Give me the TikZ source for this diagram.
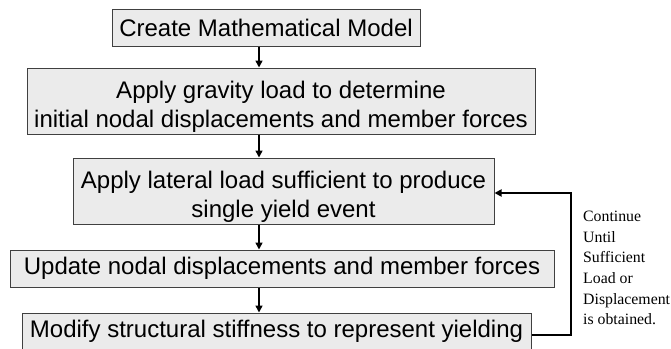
\documentclass[tikz,border=0pt]{standalone}
\usepackage{fontspec}
\setmainfont{Liberation Sans}
\newfontfamily\noteserif{Liberation Serif}
\usetikzlibrary{arrows.meta}
\begin{document}
\begin{tikzpicture}[x=1pt,y=-1pt,
  stepbox/.style={draw=black!75, line width=1pt, fill=black!8, inner sep=0pt,
    align=center, text=black, font=\fontsize{24}{29}\selectfont},
  twoline/.style={text height=58.5pt, text depth=5pt},
  flow/.style={-{Triangle[length=7pt,width=7pt]}, line width=1.6pt, black},
  loopline/.style={-{Triangle[length=7pt,width=7pt]}, line width=1.8pt, black},
  note/.style={font=\noteserif\fontsize{15.8}{20.6}\selectfont, align=left, inner sep=0pt, anchor=north west}]
\useasboundingbox (0,0) rectangle (671,348);
\clip (0,0) rectangle (671,348);
\fill[white] (0,0) rectangle (671,348);

\node[stepbox, minimum width=308pt, minimum height=37pt] (b1) at (266,27.5) {Create Mathematical Model};
\node[stepbox, twoline, minimum width=508pt, minimum height=66pt] (b2) at (281,101) {Apply gravity load to determine\\initial nodal displacements and member forces};
\node[stepbox, twoline, minimum width=421pt, minimum height=66pt] (b3) at (283.5,191) {Apply lateral load sufficient to produce\\single yield event};
\node[stepbox, minimum width=544pt, minimum height=37pt] (b4) at (282,268.5) {Update nodal displacements and member forces};
\node[stepbox, minimum width=509pt, minimum height=37pt] (b5) at (276.5,331.5) {Modify structural stiffness to represent yielding};

\coordinate (ax) at (259,0);
\draw[flow] (b1.south -| ax) -- (b2.north -| ax);
\draw[flow] (b2.south -| ax) -- (b3.north -| ax);
\draw[flow] (b3.south -| ax) -- (b4.north -| ax);
\draw[flow] (b4.south -| ax) -- (b5.north -| ax);

\coordinate (lb) at (571,335);
\coordinate (lt) at (571,193);
\draw[loopline] (b5.east |- lb) -- (lb) -- (lt) -- (b3.east |- lt);

\node[note] (txt) at (583,211) {Continue\\Until\\Sufficient\\Load or\\Displacement\\is obtained.};
\end{tikzpicture}
\end{document}
